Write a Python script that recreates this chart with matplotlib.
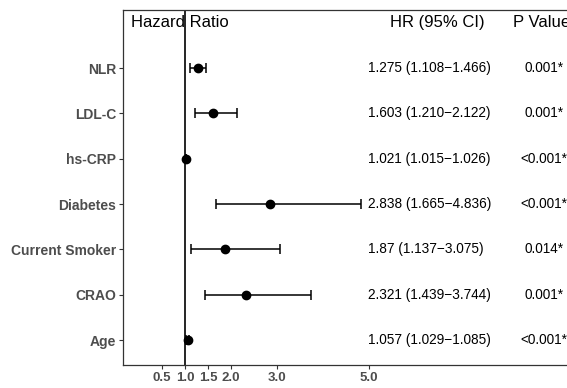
import numpy as np
import matplotlib
matplotlib.use("Agg")
import matplotlib.pyplot as plt

plt.rcParams['font.family'] = ['Liberation Sans', 'DejaVu Sans']

variables = ["NLR", "LDL-C", "hs-CRP", "Diabetes", "Current Smoker", "CRAO", "Age"]
hr = [1.275, 1.603, 1.021, 2.838, 1.87, 2.321, 1.057]
lower = [1.108, 1.210, 1.015, 1.665, 1.137, 1.439, 1.029]
upper = [1.466, 2.122, 1.026, 4.836, 3.075, 3.744, 1.085]
hr_text = ["1.275 (1.108\u22121.466)", "1.603 (1.210\u22122.122)", "1.021 (1.015\u22121.026)",
           "2.838 (1.665\u22124.836)", "1.87 (1.137\u22123.075)", "2.321 (1.439\u22123.744)",
           "1.057 (1.029\u22121.085)"]
p_text = ["0.001*", "0.001*", "<0.001*", "<0.001*", "0.014*", "0.001*", "<0.001*"]
xticks = [0.5, 1.0, 1.5, 2.0, 3.0, 5.0]

W, H = 567, 388
fig = plt.figure(figsize=(W / 100, H / 100), dpi=100)
# panel runs past the right edge, as in the original (cropped) figure
ax = fig.add_axes([123 / W, 23 / H, (620 - 123) / W, (365 - 10) / H])

n = len(variables)
ypos = np.arange(n, 0, -1)
hr = np.array(hr)
xerr = [hr - np.array(lower), np.array(upper) - hr]

ax.axvline(1, color="black", lw=1.2, zorder=1)
ax.errorbar(hr, ypos, xerr=xerr, fmt="o", color="black", ms=6,
            elinewidth=1.1, capsize=3.5, capthick=1.1, zorder=3)

for y, t, p in zip(ypos, hr_text, p_text):
    ax.text(4.98, y, t, ha="left", va="center", fontsize=9.8, color="black")
    ax.text(8.8, y, p, ha="center", va="center", fontsize=9.8, color="black")

ax.text(-0.17, n + 1, "Hazard Ratio", ha="left", va="center", fontsize=12)
ax.text(6.48, n + 1, "HR (95% CI)", ha="center", va="center", fontsize=12)
ax.text(8.76, n + 1, "P Value", ha="center", va="center", fontsize=12)

ax.set_xlim(-0.348, (620 - 139) / 46)
ax.set_ylim(0.45, n + 1.28)
ax.set_xticks(xticks)
ax.set_xticklabels([f"{v:.1f}" for v in xticks], fontweight="bold", fontsize=9.5, color="#4D4D4D")
ax.set_yticks(ypos)
ax.set_yticklabels(variables, fontweight="bold", fontsize=10, color="#4D4D4D")
ax.tick_params(axis="both", length=3, width=0.8, color="#333333", pad=2)

for s in ax.spines.values():
    s.set_color("#333333")
    s.set_linewidth(0.9)

fig.savefig("out.png", dpi=100)
